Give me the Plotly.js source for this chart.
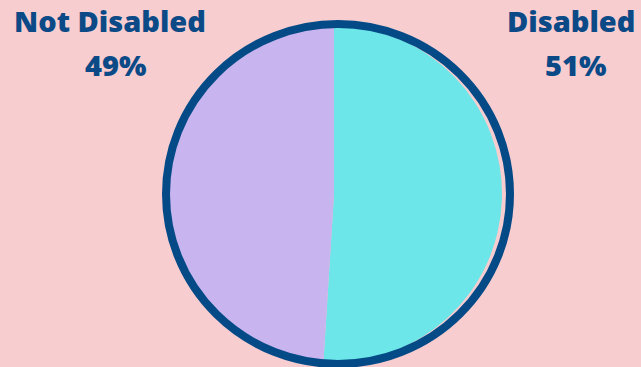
<!DOCTYPE html>
<html><head><meta charset="utf-8">
<script src="https://cdn.plot.ly/plotly-3.0.1.min.js"></script>
<style>html,body{margin:0;padding:0;background:#f7cdd0;}</style>
</head><body>
<div id="chart" style="width:641px;height:367px;"></div>
<script>
const labels = ["Disabled", "Not Disabled"];
const values = [51, 49];
const colors = ["#6ce6e8", "#c8b4ee"];
const labelPos = [ {x: 571/641, y1: 1 - 20/367, y2: 1 - 64/367, x2: 575/641},
                   {x: 110/641, y1: 1 - 20/367, y2: 1 - 64/367, x2: 115/641} ];

const textColor = "#0b4a86";
const fontFam = "'Open Sans', sans-serif";

const annotations = [];
labels.forEach((l, i) => {
  annotations.push({xref:'paper', yref:'paper', x: labelPos[i].x, y: labelPos[i].y1, text: l,
    showarrow:false, xanchor:'center', yanchor:'middle', font:{family:fontFam, size:29, weight:800, color:textColor}});
  annotations.push({xref:'paper', yref:'paper', x: labelPos[i].x2, y: labelPos[i].y2, text: values[i] + '%',
    showarrow:false, xanchor:'center', yanchor:'middle', font:{family:fontFam, size:29, weight:800, color:textColor}});
});

const cx = 334, cy = 194, r = 168;
const bcx = 338, bcy = 194, brx = 172, bry = 170;
const data = [{
  type:'pie', labels: labels, values: values, sort:false, direction:'clockwise', rotation:0,
  marker:{colors: colors, line:{width:0}}, textinfo:'none', hoverinfo:'none', showlegend:false,
  domain:{x:[(cx - r)/641, (cx + r)/641], y:[(367 - cy - r)/367, (367 - cy + r)/367]}
}];
const layout = {
  width:641, height:367, margin:{l:0,r:0,t:0,b:0},
  paper_bgcolor:'#f7cdd0', plot_bgcolor:'#f7cdd0', showlegend:false,
  annotations: annotations,
  shapes:[{type:'circle', xref:'paper', yref:'paper', layer:'above',
    x0:(bcx - brx)/641, x1:(bcx + brx)/641, y0:(367 - bcy - bry)/367, y1:(367 - bcy + bry)/367,
    line:{color:'#044a86', width:8}}]
};
Plotly.newPlot('chart', data, layout, {displayModeBar:false, staticPlot:true});
</script>
</body></html>
